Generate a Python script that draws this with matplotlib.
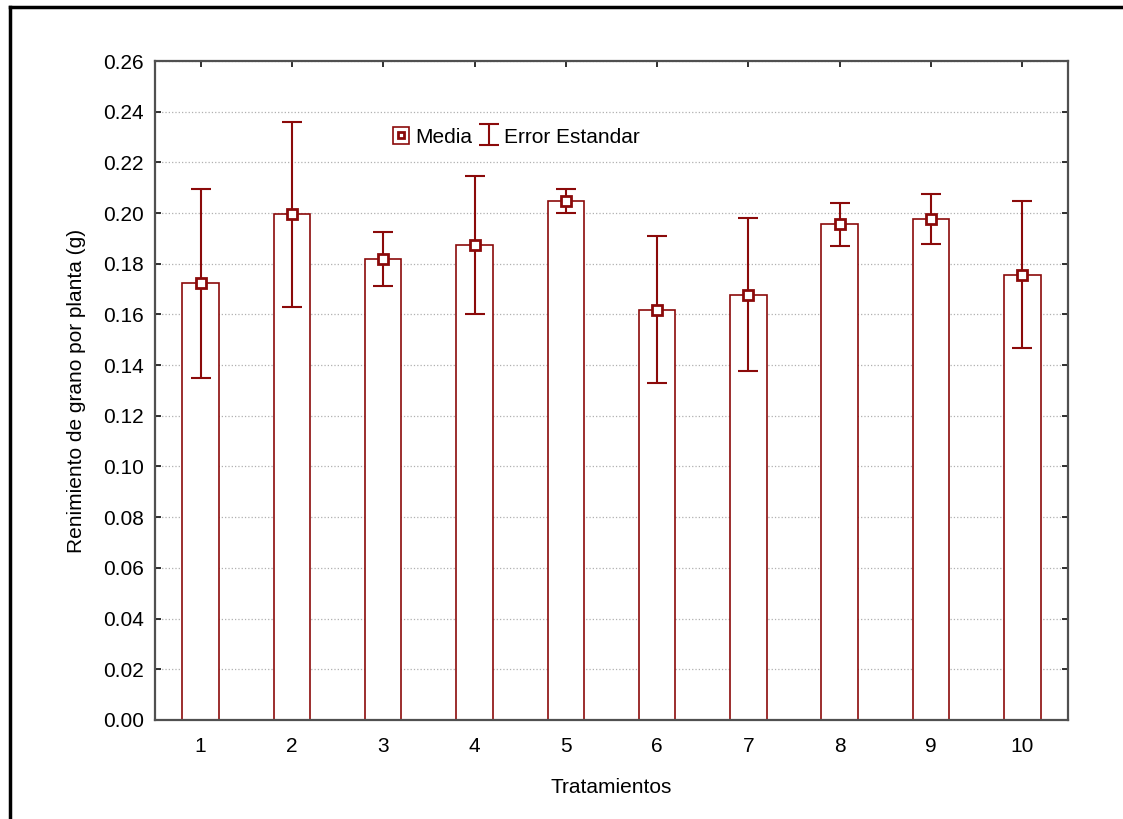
import numpy as np
import matplotlib.pyplot as plt
from matplotlib.lines import Line2D
from matplotlib.patches import Rectangle

plt.rcParams['font.family'] = ['Liberation Sans', 'DejaVu Sans']

tratamientos = [1, 2, 3, 4, 5, 6, 7, 8, 9, 10]
media = [0.1723, 0.1995, 0.1819, 0.1875, 0.2046, 0.1619, 0.1678, 0.1955, 0.1978, 0.1756]
error_est = [0.0372, 0.0366, 0.0105, 0.0272, 0.0047, 0.0289, 0.0301, 0.0083, 0.0099, 0.0290]
yticks = [0.00, 0.02, 0.04, 0.06, 0.08, 0.10, 0.12, 0.14, 0.16, 0.18, 0.20, 0.22, 0.24, 0.26]

red = '#8b0a0a'
fs = 15

fig = plt.figure(figsize=(11.23, 8.19), dpi=100)
ax = fig.add_axes([0.138, 0.121, 0.813, 0.8045])

ax.bar(tratamientos, media, width=0.4, color='white', edgecolor=red, linewidth=1.2, zorder=2)
eb = ax.errorbar(tratamientos, media, yerr=error_est, fmt='none', ecolor=red,
                 elinewidth=1.5, capsize=7, capthick=1.5, zorder=3)
ax.plot(tratamientos, media, 's', color=red, markerfacecolor='white',
        markersize=7, markeredgewidth=2, zorder=4)

ax.set_xlim(0.5, 10.5)
ax.set_ylim(0, 0.26)
ax.set_xticks(tratamientos)
ax.set_yticks(yticks)
ax.set_yticklabels([f'{v:.2f}' for v in yticks])
ax.yaxis.grid(True, linestyle=':', color='#b0b0b0', linewidth=0.9, zorder=0)
ax.set_axisbelow(True)
ax.tick_params(direction='in', length=4, width=1.3, labelsize=fs,
               top=True, right=True, color='#202020')
ax.tick_params(axis='x', pad=12)
ax.tick_params(axis='y', pad=8)
for s in ax.spines.values():
    s.set_color('#505050')
    s.set_linewidth(1.6)

ax.set_xlabel('Tratamientos', fontsize=fs, labelpad=16)
ax.set_ylabel('Renimiento de grano por planta (g)', fontsize=fs, labelpad=12)

# legend handles: boxed marker and an error bar with caps
box = Rectangle((0, 0), 1, 1, facecolor='white', edgecolor=red, linewidth=1.2)
h_media = Line2D([], [], marker='s', color=red, markerfacecolor='white',
                 markersize=5, markeredgewidth=2, linestyle='none')
h_err = Line2D([], [], marker='$\u2336$', color=red, markersize=14,
               markeredgewidth=0, linestyle='none')
fig.legend([(box, h_media), eb], ['Media', 'Error Estandar'], loc='center left',
           bbox_to_anchor=(0.333, 0.833), frameon=False, fontsize=fs,
           handlelength=0.8, handleheight=0.9, handletextpad=0.3,
           columnspacing=0.4, ncol=2)

# outer frame (left and top edges visible)
fig.add_artist(Line2D([0.0089, 0.0089], [0.0, 0.9915], color='black', linewidth=2.5,
                      transform=fig.transFigure))
fig.add_artist(Line2D([0.0089, 1.0], [0.9915, 0.9915], color='black', linewidth=2.5,
                      transform=fig.transFigure))

fig.savefig('out.png', dpi=100)
